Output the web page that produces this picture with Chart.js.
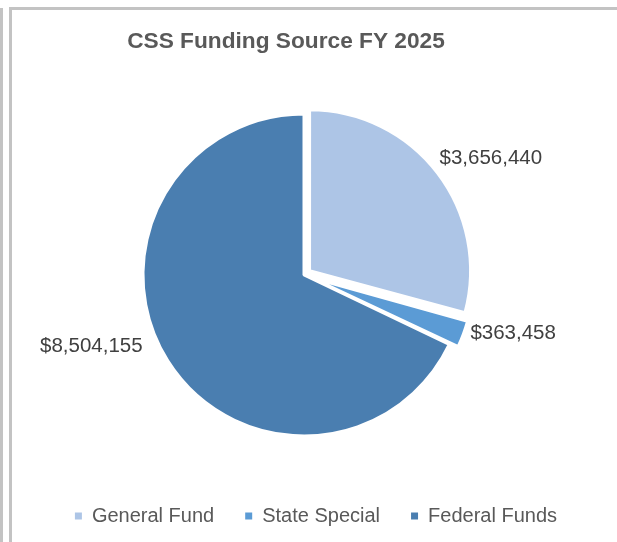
<!DOCTYPE html>
<html>
<head>
<meta charset="utf-8">
<script src="https://cdn.jsdelivr.net/npm/chart.js@4"></script>
<style>
  body { margin: 0; background: #fff; }
  canvas { display: block; }
</style>
</head>
<body>
<canvas id="chart" width="617" height="542"></canvas>
<script>
const chartTitle = "CSS Funding Source FY 2025";
const categories = ["General Fund", "State Special", "Federal Funds"];
const amounts = [3656440, 363458, 8504155];
const sliceColors = ["#adc5e6", "#5b9bd5", "#4a7eb0"];

const fmt = (v) => "$" + v.toLocaleString("en-US");

// frame lines + title, drawn before the pie
const framePlugin = {
  id: "frame",
  beforeDraw(chart) {
    const ctx = chart.ctx;
    ctx.save();
    ctx.fillStyle = "#fff";
    ctx.fillRect(0, 0, chart.width, chart.height);
    ctx.fillStyle = "#c3c3c3";
    ctx.fillRect(0, 8, 3, chart.height);
    ctx.fillRect(9, 7, 3, chart.height);
    ctx.fillRect(9, 7, chart.width, 3);
    ctx.fillStyle = "#595959";
    ctx.font = "bold 22.7px 'Liberation Sans', Arial, sans-serif";
    ctx.textAlign = "center";
    ctx.textBaseline = "middle";
    ctx.fillText(chartTitle, 286, 42);
    ctx.restore();
  }
};

// chart.js grows thin exploded slices outward; keep them at the pie radius
const evenRadius = {
  id: "evenRadius",
  afterDatasetsUpdate(chart) {
    chart.getDatasetMeta(0).data.forEach((arc) => {
      const fix = 1 - Math.sin(Math.min(Math.PI, arc.circumference));
      arc.outerRadius -= ((arc.options.offset || 0) / 4) * fix;
    });
  }
};

// value labels outside each slice
const valueLabels = {
  id: "valueLabels",
  afterDatasetsDraw(chart, args, opts) {
    const ctx = chart.ctx;
    const meta = chart.getDatasetMeta(0);
    ctx.save();
    ctx.font = "20.5px 'Liberation Sans', Arial, sans-serif";
    ctx.fillStyle = "#404040";
    ctx.textAlign = "center";
    ctx.textBaseline = "middle";
    meta.data.forEach((arc, i) => {
      const p = arc.getProps(["x", "y", "startAngle", "endAngle"], true);
      const mid = (p.startAngle + p.endAngle) / 2;
      const dx = Math.cos(mid), dy = Math.sin(mid);
      // arc offset is drawn at a quarter of its value in v4
      const r = 159 + (arc.options.offset || 0) / 4 + 8;
      const txt = fmt(amounts[i]);
      const w = ctx.measureText(txt).width;
      const n = opts.nudge[i] || [0, 0];
      const cx = p.x + dx * r + dx * w / 2 + n[0];
      const cy = p.y + dy * r + dy * 7 + n[1];
      ctx.fillText(txt, cx, cy);
    });
    ctx.restore();
  }
};

const baseLabels = Chart.overrides.doughnut.plugins.legend.labels.generateLabels;

new Chart(document.getElementById("chart"), {
  type: "pie",
  data: {
    labels: categories,
    datasets: [{
      data: amounts,
      backgroundColor: sliceColors,
      borderColor: "#ffffff",
      borderWidth: 3,
      offset: [28, 36, 0],
      radius: 161
    }]
  },
  options: {
    responsive: false,
    animation: false,
    layout: { padding: { top: 75, bottom: 6, left: 20, right: 29 } },
    plugins: {
      title: { display: false },
      tooltip: { enabled: false },
      legend: {
        position: "bottom",
        align: "end",
        labels: {
          boxWidth: 7,
          boxHeight: 7,
          padding: 31,
          color: "#595959",
          font: { family: "'Liberation Sans', Arial, sans-serif", size: 20 },
          generateLabels: (chart) => baseLabels(chart).map((l) => ({ ...l, lineWidth: 0 }))
        }
      },
      valueLabels: { nudge: [[8, -7], [4, -5], [-28, -21]] }
    }
  },
  plugins: [framePlugin, evenRadius, valueLabels]
});
</script>
</body>
</html>
